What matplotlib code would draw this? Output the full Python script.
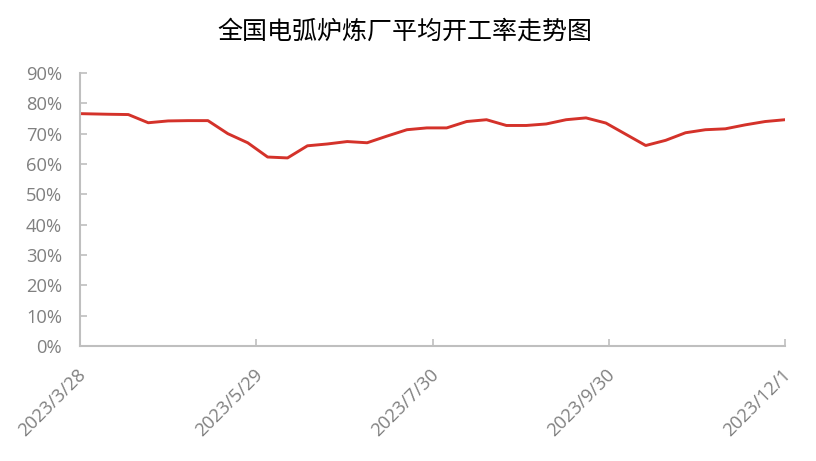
import matplotlib
matplotlib.use("Agg")
import matplotlib.pyplot as plt
import matplotlib.transforms as mtransforms
from matplotlib.ticker import FuncFormatter, MultipleLocator
import datetime as dt

title = "全国电弧炉炼厂平均开工率走势图"

dates = ["2023-03-28", "2023-04-07", "2023-04-14", "2023-04-21", "2023-04-28",
         "2023-05-05", "2023-05-12", "2023-05-19", "2023-05-26", "2023-06-02",
         "2023-06-09", "2023-06-16", "2023-06-23", "2023-06-30", "2023-07-07",
         "2023-07-14", "2023-07-21", "2023-07-28", "2023-08-04", "2023-08-11",
         "2023-08-18", "2023-08-25", "2023-09-01", "2023-09-08", "2023-09-15",
         "2023-09-22", "2023-09-29", "2023-10-06", "2023-10-13", "2023-10-20",
         "2023-10-27", "2023-11-03", "2023-11-10", "2023-11-17", "2023-11-24",
         "2023-12-01"]
rates = [76.6, 76.4, 76.3, 73.6, 74.2, 74.3, 74.3, 70.0, 67.0, 62.3,
         62.0, 66.0, 66.6, 67.4, 67.0, 69.2, 71.3, 71.9, 71.9, 74.0,
         74.6, 72.7, 72.7, 73.2, 74.6, 75.2, 73.5, 69.8, 66.1, 67.8,
         70.3, 71.3, 71.6, 72.9, 74.0, 74.6]

tick_dates = ["2023-03-28", "2023-05-29", "2023-07-30", "2023-09-30", "2023-12-01"]
tick_labels = ["2023/3/28", "2023/5/29", "2023/7/30", "2023/9/30", "2023/12/1"]

x = [dt.datetime.strptime(d, "%Y-%m-%d") for d in dates]
y = [v / 100 for v in rates]
xt = [dt.datetime.strptime(d, "%Y-%m-%d") for d in tick_dates]

W, H = 816, 461
fig = plt.figure(figsize=(W / 100, H / 100), dpi=100)
ax = fig.add_axes([80 / W, 1 - 346 / H, (785 - 80) / W, (346 - 73) / H])

ax.plot(x, y, color="#d4322a", linewidth=2.1, solid_joinstyle="round")

ax.set_xlim(xt[0], xt[-1])
ax.set_ylim(0, 0.9)
ax.yaxis.set_major_locator(MultipleLocator(0.1))
ax.yaxis.set_major_formatter(FuncFormatter(lambda v, p: f"{v*100:.0f}%"))
ax.set_xticks(xt)
ax.set_xticklabels(tick_labels)

grey = "#bfbfbf"
for s in ["top", "right"]:
    ax.spines[s].set_visible(False)
for s in ["left", "bottom"]:
    ax.spines[s].set_color(grey)
    ax.spines[s].set_linewidth(1.5)

fam = ["Open Sans", "DejaVu Sans"]
ax.tick_params(axis="both", direction="in", length=5, width=1.2, color=grey,
               labelcolor="#808080")
ax.tick_params(axis="y", pad=13)
ax.tick_params(axis="x", pad=14)
for lab in ax.get_yticklabels():
    lab.set_fontfamily(fam)
    lab.set_fontsize(13.2)
offset = mtransforms.ScaledTranslation(-3 / 100, 0, fig.dpi_scale_trans)
for lab in ax.get_xticklabels():
    lab.set_fontfamily(fam)
    lab.set_fontsize(13.2)
    lab.set_rotation(45)
    lab.set_ha("right")
    lab.set_va("top")
    lab.set_rotation_mode("anchor")
    lab.set_transform(lab.get_transform() + offset)

fig.text(405 / W, 1 - 32 / H, title, ha="center", va="center",
         fontsize=18, family=["Noto Sans CJK SC", "DejaVu Sans"], color="#000000")

fig.savefig("out.png", dpi=100)
